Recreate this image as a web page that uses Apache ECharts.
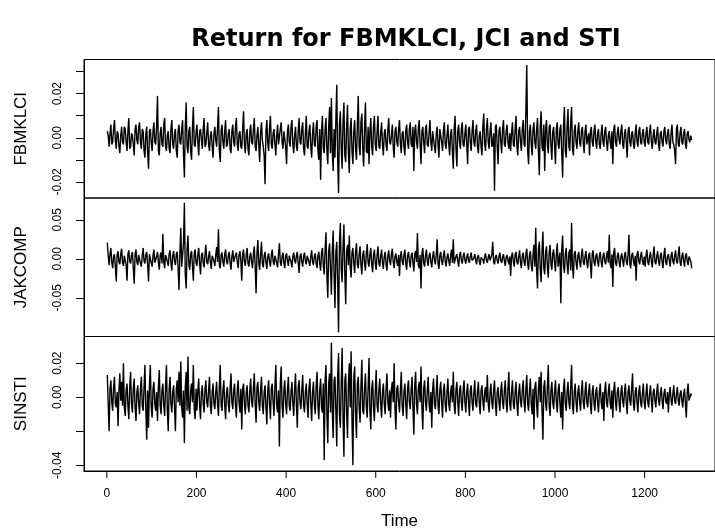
<!DOCTYPE html>
<html>
<head>
<meta charset="utf-8">
<script src="https://cdn.jsdelivr.net/npm/echarts@6/dist/echarts.min.js"></script>
<style>
  html, body { margin: 0; padding: 0; background: #fff; }
  #chart { width: 715px; height: 531px; }
</style>
</head>
<body>
<div id="chart"></div>
<script>
const fbmklci = [
  3,1,-4,2,6,-3,-2,4,8,-1,-5,3,2,-4,-7,1,5,-2,-3,5,4,-2,-6,3,9,-5,-4,2,1,-3,-8,4,6,-1,-3,5,7,-2,-5,4,3,-6,-9,2,5,-7,-14,3,4,-2,
  -6,3,7,-2,-3,5,19,-6,-8,2,5,-3,-4,6,9,-4,-6,1,3,-5,-7,4,8,-3,-5,2,4,-6,-9,3,6,-2,-3,4,8,-7,-18,5,16,-4,-7,3,5,-6,-10,4,14,-3,-4,2,
  6,-2,-8,3,4,-1,-5,4,9,-4,-3,2,7,-3,-6,1,3,-4,-9,2,5,-1,-4,5,14,-6,-11,3,6,-2,-5,3,8,-4,-3,2,4,-5,-7,3,6,-2,-4,5,9,-3,-6,2,3,-4,
  -5,4,12,-3,-7,2,4,-5,-8,3,6,-2,-3,4,9,-4,-6,1,5,-3,-11,2,7,-1,-4,-8,-21,3,8,-2,-6,4,10,-3,-5,2,4,-3,-8,1,6,-3,-3,4,7,-2,-5,3,3,-4,
  -12,3,6,-2,-4,5,8,-3,-7,1,5,-4,-6,3,9,-2,-3,4,7,-5,-8,2,10,-4,-5,3,6,-4,-9,2,7,-3,-4,5,8,-6,-10,4,-19,3,10,-5,-7,4,9,-6,-12,5,14,-7,
  18,-6,-15,4,-9,8,24,-10,-25,6,12,-5,-14,7,16,-8,-11,5,15,-7,-16,4,9,-6,-12,3,8,-5,-10,6,19,-4,-8,7,11,-5,-13,4,16,-6,-7,5,-12,3,9,-4,-8,5,10,-3,
  -6,3,10,-4,-5,2,7,-3,-8,2,4,-3,-6,4,9,-2,-3,1,6,-4,-9,3,5,-2,-4,4,8,-3,-7,2,3,-4,-8,3,6,-2,-5,4,7,-3,-4,5,-15,3,6,-2,-5,4,8,-3,
  -12,3,5,-2,-7,4,6,-3,-4,2,8,-2,-6,3,3,-4,-7,2,5,-3,-9,4,4,-2,-6,3,7,-3,-5,1,6,-3,-8,2,4,-6,-14,4,10,-5,-13,3,6,-2,-5,4,7,-3,-4,2,
  6,-3,-12,4,5,-2,-6,3,8,-2,-4,3,6,-4,-7,1,3,-4,-8,5,11,-3,-6,4,9,-2,-5,3,7,-4,-3,2,-24,5,6,-4,-12,3,5,-2,-7,4,8,-3,-4,3,6,-2,-5,2,
  -6,2,7,-3,-4,4,10,-4,-8,3,5,-2,-6,4,8,-3,-4,12,33,-6,-12,3,6,-3,-8,4,7,-2,-5,4,9,-6,-17,5,12,-4,-6,6,-15,4,8,-3,-7,5,6,-4,-10,3,5,-3,
  -12,4,7,-3,-5,4,6,-7,-18,5,14,-6,-9,5,13,-4,-6,7,14,-5,-8,3,6,-2,-5,3,7,-2,-4,3,5,-2,-7,3,6,-3,-3,2,-8,3,5,-2,-4,3,6,-2,-5,2,4,-3,
  -5,2,6,-2,-4,3,5,-2,-6,1,3,-2,-5,3,-12,4,6,-2,-4,2,5,-1,-3,3,6,-3,-5,2,4,-2,-9,3,5,-2,-4,2,3,-3,-5,2,6,-2,-4,3,5,-2,-3,2,4,-2,
  -4,2,5,-2,-3,3,6,-2,-5,1,4,-2,-3,2,5,-3,-6,2,3,-2,-4,3,5,-1,-3,2,4,-3,-5,2,6,-2,-3,-6,-12,4,6,-3,-4,2,5,-2,-3,2,4,-3,-5,2,3,-1,
  -2,1,-1
];
const jakcomp = [
  21,4,-8,6,14,-5,-12,3,6,-10,-29,5,10,-4,-7,6,13,-5,-9,4,5,-8,-28,6,11,-3,-6,5,9,-12,-32,6,12,-4,-8,5,7,-6,-10,4,14,-3,-6,5,9,-7,-29,6,8,-5,
  -10,4,12,-5,-6,3,9,-4,-14,5,8,-6,32,-4,-12,5,7,-3,-9,6,11,-5,-15,4,10,-3,-8,6,9,-12,-40,8,40,-10,-12,20,72,-20,-38,12,30,-8,-14,6,10,-9,-28,7,12,-5,
  -9,5,14,-6,-20,4,8,-5,-11,6,18,-4,-7,3,10,-5,-13,4,6,-3,-9,5,15,-4,38,-8,-12,5,8,-4,-10,6,12,-3,-7,4,9,-5,-14,3,11,-4,-6,5,8,-4,-12,5,10,-3,
  -28,6,12,-4,-9,5,14,-6,-10,3,8,-4,-12,6,16,-10,-44,8,24,-6,-14,5,22,-6,-11,4,9,-5,-13,3,7,-4,-10,5,12,-3,-8,4,6,-5,-11,6,20,-4,-9,3,8,-5,-12,4,
  7,-3,-9,4,6,-4,-11,3,8,-2,-6,4,9,-5,-18,3,7,-4,-10,3,8,-3,-7,4,6,-4,-9,3,11,-4,-8,3,7,-5,-12,4,9,-6,-15,8,14,-8,-20,12,34,-22,-50,10,20,-12,
  -46,10,36,-20,-63,8,22,-30,-94,20,46,-12,-30,15,44,-20,-58,10,18,-8,30,-10,-24,8,14,-6,-18,9,20,-7,-12,6,16,-8,-20,5,11,-6,-15,7,19,-5,-10,6,14,-7,-17,5,12,-6,
  -14,5,16,-6,-10,4,12,-5,-13,3,9,-6,-15,4,11,-3,-8,6,13,-4,-12,3,7,-4,-9,5,-22,4,10,-3,-8,5,12,-6,-14,4,9,-3,-11,4,8,-5,-16,6,10,-4,33,-8,-12,5,
  -38,6,14,-5,-10,4,12,-3,-9,4,8,-4,-11,3,10,-2,-7,5,25,-6,-13,4,9,-3,-8,4,11,-3,-10,2,7,-3,-9,4,12,-5,25,-6,-8,3,6,-3,-10,4,9,-2,-6,3,8,-2,
  -6,2,7,-2,-5,3,8,-2,-4,1,6,-2,-7,2,5,-3,-8,2,4,-1,-6,3,7,-2,-5,2,6,-2,-4,5,22,-4,-7,2,5,-2,-6,3,8,-2,-5,2,6,-3,-9,2,5,-2,-7,3,
  -22,4,8,-3,-10,5,9,-4,-7,3,11,-5,-12,4,8,-4,-9,6,13,-6,-14,5,10,-8,-16,6,18,-10,40,-15,-38,12,22,-12,-30,10,35,-12,-20,8,16,-10,-24,8,18,-6,-14,7,12,-5,
  -16,6,20,-10,-12,8,-57,12,30,-8,-18,6,14,-7,-20,8,12,-15,46,-10,-25,7,10,-5,-14,4,9,-4,-11,5,13,-4,-8,3,10,-5,-12,4,8,-6,-25,6,11,-4,-9,3,7,-4,-10,4,
  9,-4,-11,3,8,-3,-7,4,10,-5,31,-6,-12,6,-36,8,14,-5,-9,3,8,-4,-11,3,7,-2,-10,4,9,-3,-8,5,31,-7,-12,4,8,-3,-9,4,-28,6,10,-3,-7,4,9,-3,-8,3,
  -10,4,12,-4,-8,3,9,-3,-11,5,16,-4,-7,3,10,-3,-9,4,8,-4,-12,5,14,-4,-8,3,6,-2,-10,4,9,-3,-7,4,11,-3,-6,5,16,-4,-9,3,8,-3,-10,4,7,-3,-8,3,
  5,-3,-12
];
const sinsti = [
  13,-4,-20,5,10,-3,-8,6,12,-4,-6,3,-17,4,14,-2,9,-5,20,-6,-11,4,8,-5,-13,6,15,-4,-9,5,11,-6,-14,3,7,-4,-10,5,12,-5,-8,6,19,-8,-25,4,-18,7,19,-6,
  -12,5,9,-4,-8,3,-14,6,16,-5,-10,4,8,-5,-11,6,19,-8,-20,5,12,-4,-9,3,7,-6,-20,5,10,-3,15,-5,21,-6,-12,4,-27,6,15,-8,24,-6,-10,4,8,-3,19,-7,-13,5,
  -8,4,11,-5,-13,3,7,-4,-9,5,10,-3,-6,4,12,-5,-10,3,8,-4,-7,3,9,-4,-11,6,19,-5,-8,4,10,-5,-13,3,6,-4,-9,5,14,-3,-7,4,8,-5,-12,4,10,-3,-9,5,
  -19,5,8,-4,-10,3,7,-5,-9,4,11,-3,-6,5,14,-4,-15,6,9,-3,-8,4,12,-5,-10,3,7,-6,-16,4,10,-4,-13,5,8,-3,-11,6,19,-5,-9,4,-29,8,18,-5,-12,4,10,-4,
  -10,4,12,-5,-8,3,9,-4,-11,5,14,-5,-18,6,10,-3,-7,4,13,-5,-9,3,8,-4,-12,5,11,-4,-14,3,9,-4,-10,6,15,-5,-13,4,11,-6,-9,8,-37,10,19,-10,-27,8,14,-9,
  32,-8,-24,10,12,-8,-29,12,26,-10,-18,8,29,-12,-35,10,14,-9,-24,8,20,-6,27,-14,-40,12,18,-10,-24,8,12,-6,-15,7,22,-8,-10,5,14,-6,-12,6,23,-8,-19,5,10,-6,-14,4,
  16,-5,-9,4,11,-4,-12,3,8,-4,-10,5,14,-3,-8,4,-12,5,9,-3,20,-7,-19,5,7,-3,-9,4,15,-5,-11,3,8,-4,-13,5,10,-3,-7,4,12,-6,-22,7,15,-4,-10,5,9,-3,
  18,-6,-19,5,10,-3,-8,4,12,-4,-9,3,-18,5,11,-4,-7,3,13,-5,-10,4,9,-3,-12,4,8,-4,-9,3,11,-4,-8,3,7,-3,15,-5,-10,4,9,-3,-11,4,7,-3,-8,4,10,-3,
  -9,3,8,-3,-11,4,7,-3,-8,3,10,-4,-6,3,9,-3,-10,4,7,-2,-8,3,6,-3,13,-4,-9,3,8,-3,-7,4,10,-4,-11,3,6,-3,-8,4,9,-3,-7,4,10,-3,-9,5,15,-4,
  -8,3,10,-4,-7,3,9,-4,-11,3,8,-3,-6,4,10,-3,-9,5,13,-4,-8,4,11,-4,-10,5,-19,6,9,-4,-12,5,12,-3,15,-8,-25,6,10,-4,-8,6,19,-5,-11,4,9,-3,-7,3,
  10,-3,-9,4,8,-4,-12,3,-19,5,11,-4,-8,3,9,-3,-7,6,19,-5,-10,3,8,-3,-9,3,7,-3,-8,4,10,-3,-7,3,9,-3,-6,3,8,-4,-10,3,7,-3,-8,3,6,-3,-9,3,
  8,-3,-7,3,-14,4,9,-3,-6,3,8,-3,-7,4,-12,4,9,-3,-8,3,6,-3,-9,3,7,-2,-6,3,8,-3,-10,3,7,-2,-5,5,14,-4,-8,3,6,-3,-9,3,7,-3,-6,2,8,-3,
  -7,2,8,-3,-6,2,7,-2,-9,3,5,-2,-6,3,8,-2,-5,2,6,-2,-7,2,5,-2,-4,3,-9,2,6,-2,-5,2,7,-2,-4,2,6,-2,-5,2,4,-2,-6,2,5,-4,-12,3,8,-2,
  -3,2,1
];

const panelNames = ['FBMKLCI', 'JAKCOMP', 'SINSTI'];
const timeTicks = [0, 200, 400, 600, 800, 1000, 1200];
const yTicks = [
  [-0.02, -0.01, 0, 0.01, 0.02, 0.03],
  [-0.05, 0, 0.05],
  [-0.04, -0.02, 0, 0.02]
];
const yLabels = [
  [-0.02, 0, 0.02],
  [-0.05, 0, 0.05],
  [-0.04, 0, 0.02]
];
const yRange = [
  [-0.0273, 0.0355],
  [-0.0995, 0.078],
  [-0.0434, 0.0357]
];
const xRange = [-51, 1357];

const chart = echarts.init(document.getElementById('chart'), null, { renderer: 'canvas' });

const toPairs = arr => arr.map((v, i) => [1 + 2 * i, v / 1000]);
const seriesData = [fbmklci, jakcomp, sinsti].map(toPairs);

const panelTop = 59.5;
const panelH = 138.5;
const font = 'Liberation Sans, Arial, sans-serif';
const black = { color: '#000', width: 1 };

// time ticks drawn as a small custom series through the axis scales
function timeTickSeries(k) {
  return {
    type: 'custom', xAxisIndex: k, yAxisIndex: k,
    data: timeTicks.map(t => [t, 0]),
    clip: false, silent: true, z: 5,
    renderItem: (params, api) => {
      const p = api.coord([api.value(0), api.value(1)]);
      const box = params.coordSys;
      return {
        type: 'line',
        shape: { x1: p[0], y1: box.y + box.height, x2: p[0], y2: box.y + box.height + 7 },
        style: { stroke: '#000', lineWidth: 1 }
      };
    }
  };
}

const grids = [], xAxes = [], helperX = [], yAxes = [], series = [];
for (let k = 0; k < 3; k++) {
  const last = k === 2;
  grids.push({
    left: 84, width: 642, top: panelTop + k * panelH, height: panelH,
    show: true, borderColor: '#000', borderWidth: 1, backgroundColor: 'transparent'
  });
  xAxes.push({
    gridIndex: k, type: 'value', min: xRange[0], max: xRange[1], show: last,
    position: 'bottom',
    splitLine: { show: false },
    axisLine: { show: true, onZero: false, lineStyle: black },
    axisTick: { show: false },
    axisLabel: {
      customValues: timeTicks, margin: 17,
      color: '#000', fontFamily: font, fontSize: 12,
      formatter: v => String(v)
    },
    name: 'Time', nameLocation: 'middle', nameGap: 42,
    nameTextStyle: { color: '#000', fontFamily: font, fontSize: 17 }
  });
  // hidden 0..1 axis whose zero is the grid's left edge, so the y axis can sit "on zero" there
  helperX.push({ gridIndex: k, type: 'value', min: 0, max: 1, show: false });
  yAxes.push({
    gridIndex: k, type: 'value', min: yRange[k][0], max: yRange[k][1],
    position: 'left',
    splitLine: { show: false },
    axisLine: { show: true, onZero: true, onZeroAxisIndex: 3 + k, lineStyle: black },
    axisTick: { show: true, inside: false, customValues: yTicks[k], length: 8, lineStyle: black },
    axisLabel: {
      customValues: yLabels[k], rotate: 90, margin: 20,
      color: '#000', fontFamily: font, fontSize: 12,
      formatter: v => v.toFixed(2)
    },
    name: panelNames[k], nameLocation: 'middle', nameGap: 54, nameRotate: 90,
    nameTextStyle: { color: '#000', fontFamily: font, fontSize: 17 }
  });
  series.push({
    type: 'line', xAxisIndex: k, yAxisIndex: k, data: seriesData[k],
    showSymbol: false, lineStyle: { color: '#000', width: 1.4 }
  });
  if (last) series.push(timeTickSeries(k));
}

chart.setOption({
  animation: false,
  backgroundColor: '#fff',
  title: {
    text: 'Return for FBMKLCI, JCI and STI',
    left: 401, textAlign: 'center', top: 23,
    textStyle: { color: '#000', fontFamily: 'DejaVu Sans', fontWeight: 'bold', fontSize: 24 }
  },
  grid: grids,
  xAxis: xAxes.concat(helperX),
  yAxis: yAxes,
  series: series
});
</script>
</body>
</html>
